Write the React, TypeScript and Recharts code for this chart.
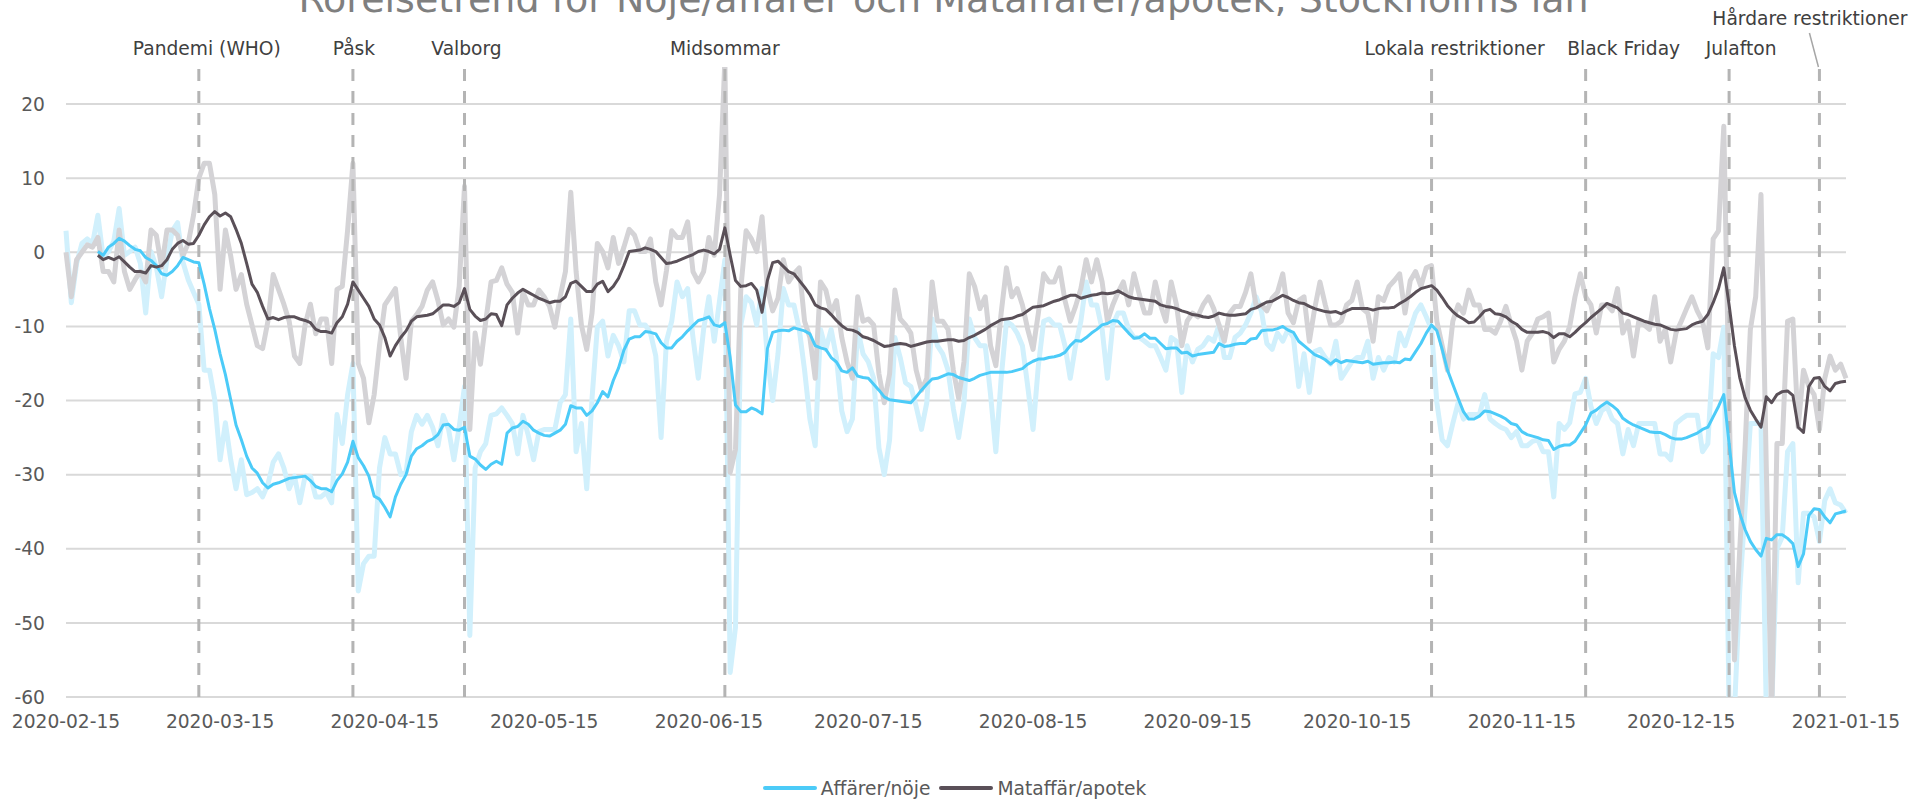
import React from 'react';
import { LineChart, Line, XAxis, YAxis, CartesianGrid, ReferenceLine, Legend } from 'recharts';

const START_UTC = Date.UTC(2020, 1, 15);

const xTickDates = [
  '2020-02-15', '2020-03-15', '2020-04-15', '2020-05-15', '2020-06-15', '2020-07-15',
  '2020-08-15', '2020-09-15', '2020-10-15', '2020-11-15', '2020-12-15', '2021-01-15',
];
const yTicks = [-60, -50, -40, -30, -20, -10, 0, 10, 20];

const events = [
  { date: '2020-03-11', label: 'Pandemi (WHO)' },
  { date: '2020-04-09', label: 'Påsk' },
  { date: '2020-04-30', label: 'Valborg' },
  { date: '2020-06-18', label: 'Midsommar' },
  { date: '2020-10-29', label: 'Lokala restriktioner' },
  { date: '2020-11-27', label: 'Black Friday' },
  { date: '2020-12-24', label: 'Julafton' },
  { date: '2021-01-10', label: 'Hårdare restriktioner' },
];

const seriesNames = ['Affärer/nöje', 'Mataffär/apotek'];

// Affärer/nöje, daily values (from 2020-02-15)
const affarerDaily = [
  2.9, -6.8, -1.5, 1.2, 1.8, 1.2, 5, -0.7, 0.1, 1.5,
  5.9, -0.4, 0.1, 0.7, -1.5, -8.2, 0.1, -2, -6, -1,
  2.9, 4, -1.3, -3.7, -5.4, -7, -15.9, -15.9, -19.9, -28,
  -23, -28, -31.9, -28, -32.7, -32.4, -31.9, -33, -31.3, -28.3,
  -27.2, -29.1, -31.9, -30.2, -33.8, -30.2, -30.2, -33, -33, -32.4,
  -33.8, -21.9, -25.8, -19.2, -15, -45.7, -42, -41, -41, -29.1,
  -25, -27.2, -27.2, -30, -29.7, -24.2, -22, -23.2, -22, -23.6,
  -26.1, -22, -23.9, -28, -23.6, -18.1, -51.7, -29.1, -26.9, -25.8,
  -22, -21.8, -21, -22, -23.1, -27.2, -22, -24.7, -28, -24.2,
  -23.9, -23.9, -23.9, -20.3, -19.2, -9, -26.9, -23.1, -31.9, -19.7,
  -10.1, -9.3, -14, -11.2, -12.6, -14.8, -7.9, -7.9, -9.8, -9.8,
  -10.9, -14, -25, -12, -9.3, -4, -6, -4.9, -11.5, -17,
  -10.4, -6, -12, -6.5, -1, -56.7, -50.6, -9.8, -6, -6.8,
  -9.8, -4.9, -14.2, -20, -13.7, -4.9, -7.1, -7.1, -10.4, -15.9,
  -22.5, -26.1, -10.4, -13.1, -10.4, -14.2, -21.4, -24.2, -22.5, -10.4,
  -13.7, -14.8, -17, -26.4, -30, -25.3, -11.5, -14.2, -17.6, -18.1,
  -20.8, -23.9, -20.3, -9, -12.6, -13.7, -15.9, -21.1, -25, -20.3,
  -9, -11.5, -12.6, -12.6, -19.2, -26.9, -17, -9.3, -9.8, -10.9,
  -12.6, -18.1, -23.9, -15.3, -9.3, -9, -9.8, -9.8, -12.6, -17,
  -12.6, -9.3, -4, -7.1, -7.1, -10.4, -17, -9.8, -8.2, -8.2,
  -10.4, -11.5, -11.5, -12, -12.6, -12.6, -14.2, -15.9, -11.5, -12,
  -18.9, -12.6, -14.8, -13.1, -12.6, -11.5, -12, -9.8, -14.2, -14.2,
  -11.5, -10.9, -9.8, -8.2, -6, -8, -12.3, -13.1, -10.9, -12,
  -10.4, -11.5, -18.1, -13.7, -18.9, -13.4, -13.1, -14.2, -15.1, -12,
  -17, -15.9, -14.8, -14.2, -14.2, -12, -17, -14.2, -15.9, -14.2,
  -14.8, -10.9, -12.6, -10.4, -8.2, -7.1, -8.7, -10.4, -20.3, -25.3,
  -26.1, -23.1, -20.3, -22.5, -21.9, -21.9, -21.9, -19.2, -22.5, -23.1,
  -23.6, -23.9, -25, -24.2, -26.1, -26.1, -25.5, -25.3, -26.9, -26.9,
  -33, -23.1, -23.9, -23, -19.1, -18.9, -17, -20.8, -23.1, -21.4,
  -20.8, -22.5, -23.1, -27.2, -23.9, -26.1, -23.1, -23.1, -23.1, -23.1,
  -27.2, -27.2, -28, -23.1, -22.5, -22, -22, -22, -26.9, -25.8,
  -13.7, -14.2, -10.1, -62, -62, -45.7, -34.6, -23.1, -23.1, -23,
  -62, -62, -40, -38.4, -26.9, -25.8, -44.6, -35.2, -35.2, -35.7,
  -39, -33.5, -31.9, -33.8, -34.1, -35.2,
];

// Affärer/nöje, 7-day average
const affarerAvg = [
  null, null, null, null, null, null, 0.1, -0.4, 0.7, 1.2,
  1.9, 1.5, 0.9, 0.4, 0.2, -0.7, -1.1, -1.8, -2.9, -3.1,
  -2.6, -1.8, -0.7, -1, -1.3, -1.4, -4.3, -7.6, -10.4, -13.7,
  -16.5, -19.9, -23.3, -25.3, -27.5, -29.1, -29.8, -31.1, -31.8, -31.3,
  -31.1, -30.8, -30.5, -30.4, -30.3, -30.2, -30.8, -31.6, -31.9, -31.9,
  -32.3, -30.8, -29.9, -28.3, -25.5, -27.7, -28.8, -30.2, -32.9, -33.3,
  -34.4, -35.7, -33, -31.3, -30, -27.5, -26.5, -26.1, -25.5, -25.2,
  -24.6, -23.3, -23.2, -23.9, -24, -23.6, -27.5, -27.9, -28.7, -29.3,
  -28.6, -28.2, -28.6, -24.4, -23.7, -23.5, -22.8, -23.2, -24, -24.4,
  -24.7, -24.8, -24.4, -24, -23.2, -20.7, -21, -21, -22, -21.4,
  -20.3, -18.8, -19.5, -17.3, -15.6, -13.2, -11.7, -11.4, -11.4, -10.7,
  -10.8, -11, -12.2, -12.9, -12.9, -12, -11.4, -10.6, -9.9, -9.2,
  -9, -8.7, -9.8, -10, -9.5, -14.2, -20.6, -21.5, -21.5, -21,
  -21.3, -21.8, -13, -10.8, -10.6, -10.5, -10.6, -10.2, -10.4, -10.6,
  -11, -12.6, -12.9, -13.1, -14.2, -14.8, -16, -16.2, -15.6, -16.7,
  -16.9, -17, -17.8, -18.6, -19.5, -19.9, -20, -20.1, -20.2, -20.3,
  -19.5, -18.6, -17.8, -17.1, -17, -16.7, -16.4, -16.5, -16.9, -17.1,
  -17.3, -17, -16.6, -16.4, -16.2, -16.2, -16.2, -16.2, -16.1, -15.9,
  -15.7, -15.1, -14.7, -14.4, -14.4, -14.2, -14.1, -13.9, -13.5, -12.6,
  -11.9, -12, -11.5, -10.9, -10.4, -9.8, -9.6, -9.2, -9.3, -10.1,
  -10.9, -11.6, -11.5, -11, -11.6, -11.6, -12.3, -13, -12.9, -12.9,
  -13.6, -13.5, -14, -13.8, -13.7, -13.6, -13.5, -12.3, -12.7, -12.6,
  -12.4, -12.3, -12.3, -11.7, -11.6, -10.6, -10.5, -10.5, -10.3, -10,
  -10.5, -10.8, -12, -12.6, -13.2, -13.8, -14.1, -14.5, -15.1, -14.5,
  -14.9, -14.6, -14.7, -14.8, -14.9, -14.7, -15.1, -15, -14.9, -14.9,
  -14.8, -14.9, -14.4, -14.5, -13.4, -12.3, -10.9, -9.8, -10.6, -13.1,
  -15.9, -17.8, -19.7, -21.5, -22.5, -22.5, -22.1, -21.4, -21.5, -21.8,
  -22.1, -22.5, -23.1, -23.3, -24.2, -24.6, -24.8, -25, -25.3, -25.4,
  -26.6, -26.2, -26, -26, -25.5, -24.4, -23.3, -21.7, -21.3, -20.7,
  -20.2, -20.7, -21.3, -22.4, -22.9, -23.3, -23.6, -23.9, -24.2, -24.3,
  -24.3, -24.6, -25, -25.2, -25.2, -25, -24.7, -24.4, -23.9, -23.6,
  -22.2, -20.8, -19.2, -25.8, -32.4, -35.2, -37.4, -39, -40.1, -41,
  -38.6, -38.8, -38.1, -38.1, -38.6, -39.3, -42.4, -40.7, -35.5, -34.6,
  -34.7, -35.7, -36.5, -35.3, -35.1, -34.9,
];

// Mataffär/apotek, daily values
const mataffarDaily = [
  0, -6, -1, 0, 1, 0.7, 2, -2.6, -2.6, -4,
  3, -2.6, -5, -3.7, -2.6, -4, 3, 2.3, -2, 3,
  3, 2.3, -0.5, 1.2, 5, 10, 12, 12, 7.8, -5,
  3, -0.5, -5, -3, -7, -9.8, -12.6, -13, -9.3, -3,
  -5, -7, -9.3, -14, -15, -9.8, -7, -11, -9, -9,
  -15, -5, -4.6, 3, 12, -15, -17, -23, -19.2, -12.6,
  -7.1, -6, -4.9, -11.5, -17, -9.3, -8.4, -7.3, -5.1, -4,
  -6.5, -9.8, -9, -10.1, -4.6, 8.9, -23.9, -10.9, -15.1, -9.3,
  -4, -3.8, -2.1, -4.3, -5.4, -10.9, -5.4, -7.1, -7.1, -5.1,
  -6, -7.3, -10.1, -6, -2.6, 8.1, -2.6, -9.8, -13.1, -8.2,
  1.2, 0.1, -2.1, 2, -1.5, 0.7, 3.1, 2.3, 0.1, 0.1,
  1.8, -4, -7.1, -2.5, 2.9, 2, 2, 4.1, -2.6, -4,
  -2.6, 2, -0.4, 7.8, 26, -29.7, -26.6, -4.9, 2.9, 1.8,
  0.1, 4.8, -4.9, -7.9, -6.2, -1, -4, -2.9, -2.1, -9.3,
  -11.5, -17, -4, -5.1, -8.2, -6.5, -11.5, -14.8, -17, -6,
  -9.3, -9, -9.8, -16.4, -20.3, -16.4, -5.1, -9, -9.8, -10.9,
  -15.9, -18.6, -17, -4, -9.3, -9.3, -10.4, -15.9, -19.7, -14.8,
  -2.9, -4.6, -7.6, -6, -12.6, -15.3, -8.2, -2.1, -6, -4.9,
  -7.1, -10.4, -13.1, -8.2, -2.9, -4, -4, -2.1, -6.5, -9.3,
  -7.3, -4.9, -1, -4, -1, -4, -9.3, -7.1, -5.4, -4,
  -7.1, -2.9, -5.7, -8.2, -8.2, -4, -7.1, -9.3, -4, -7.1,
  -12.6, -9.3, -8.2, -8.7, -7.1, -6, -7.6, -9.8, -12, -8.2,
  -7.3, -7.3, -5.4, -2.9, -7.3, -7.1, -7.9, -6.2, -5.4, -2.9,
  -8.2, -9.5, -6.5, -6, -12, -7.6, -4, -7.1, -9.8, -9.8,
  -9.3, -7.1, -6.5, -4, -7.6, -8.2, -12, -6, -6.5, -4.6,
  -3.8, -2.9, -8.2, -3.8, -2.6, -4.6, -2.1, -1.8, -9.3, -12.6,
  -15.9, -9.3, -7.1, -8.2, -5.1, -7.1, -7.1, -10.4, -10.4, -10.9,
  -9.3, -7.3, -9.8, -12, -15.9, -12, -10.9, -9, -8.7, -8.2,
  -14.8, -13.1, -12, -10, -6, -2.9, -6, -7.1, -10.9, -7.1,
  -7.1, -7.9, -4.9, -10.9, -9.3, -14, -9.3, -9.8, -10.4, -6,
  -12, -10.4, -14.8, -10.9, -9.3, -7.6, -6, -7.9, -9.3, -12.9,
  1.8, 2.9, 17, -20, -55, -40.1, -26.4, -10.4, -6, 7.8,
  -29, -63, -25.8, -25.8, -9.3, -9, -23.6, -15.9, -18.1, -19.2,
  -23.9, -17, -14, -15.9, -15.1, -17,
];

// Mataffär/apotek, 7-day average
const mataffarAvg = [
  null, null, null, null, null, null, -0.4, -1, -0.7, -1,
  -0.6, -1.3, -2, -2.6, -2.6, -2.8, -1.8, -2, -1.8, -1,
  0.4, 1.2, 1.6, 1.1, 1.2, 2.3, 3.7, 4.8, 5.5, 4.9,
  5.3, 4.8, 3.1, 1.2, -1.5, -4.3, -5.4, -7.3, -9, -8.8,
  -9.1, -8.8, -8.7, -8.7, -9, -9.2, -9.5, -10.4, -10.7, -10.7,
  -10.9, -9.5, -8.7, -7, -4, -5.1, -6.2, -7.3, -9, -9.8,
  -11.5, -14, -12.6, -11.5, -10.6, -9.3, -8.7, -8.6, -8.5, -8.3,
  -7.7, -7.1, -7.1, -7.3, -6.8, -4.9, -7.7, -8.6, -9.2, -9,
  -8.3, -8.4, -9.9, -7.1, -6.2, -5.5, -5, -5.4, -5.8, -6.2,
  -6.5, -6.8, -6.6, -6.6, -6, -4.2, -3.9, -4.6, -5.3, -5.3,
  -4.3, -3.9, -5.3, -4.6, -3.5, -1.8, 0.1, 0.2, 0.3, 0.6,
  0.4, 0.1, -0.7, -1.5, -1.4, -1.2, -0.9, -0.6, -0.3, 0.1,
  0.3, 0.1, -0.2, 0.4, 3.3, -0.4, -3.8, -4.6, -4.5, -4.2,
  -5.1, -8.1, -3.8, -1.4, -1.2, -1.9, -2.6, -2.9, -3.8, -4.7,
  -5.7, -7.1, -7.5, -7.7, -8.4, -9.2, -9.9, -10.4, -10.5, -10.8,
  -11.4, -11.6, -11.9, -12.3, -12.7, -12.6, -12.4, -12.3, -12.4, -12.7,
  -12.5, -12.3, -12.1, -12, -12, -11.9, -11.8, -11.8, -12, -11.9,
  -11.5, -11.2, -10.8, -10.4, -9.9, -9.5, -9.1, -9, -8.9, -8.6,
  -8.4, -7.9, -7.4, -7.3, -7.2, -6.9, -6.6, -6.4, -6.1, -5.8,
  -5.8, -6.2, -6, -5.8, -5.7, -5.5, -5.6, -5.5, -5.2, -5.6,
  -6, -6.2, -6.3, -6.4, -6.5, -6.6, -7.1, -7.3, -7.4, -7.6,
  -7.9, -8.1, -8.4, -8.5, -8.7, -8.8, -8.6, -8.2, -8.4, -8.5,
  -8.5, -8.4, -8.3, -7.7, -7.5, -7.1, -6.7, -6.6, -6.2, -5.8,
  -6.1, -6.5, -6.8, -6.9, -7.3, -7.6, -7.8, -8, -8.1, -8,
  -8.3, -7.9, -7.6, -7.6, -7.6, -7.6, -7.8, -7.6, -7.5, -7.5,
  -7.4, -6.9, -6.5, -6, -5.4, -4.9, -4.7, -4.5, -5.1, -6.1,
  -7.2, -8, -8.6, -9, -9.5, -9.4, -8.7, -7.9, -7.7, -8.3,
  -8.4, -8.7, -9.3, -9.7, -10.4, -10.8, -10.8, -10.8, -10.7, -10.9,
  -11.5, -11, -11, -11.4, -10.8, -10.1, -9.5, -8.8, -8.2, -7.6,
  -6.9, -7.2, -7.5, -8.2, -8.4, -8.7, -9, -9.3, -9.5, -9.7,
  -9.8, -10.1, -10.4, -10.5, -10.4, -10.3, -9.8, -9.5, -9.3, -8.4,
  -6.8, -4.9, -2.1, -7.1, -12.6, -16.9, -19.6, -21.3, -22.5, -23.6,
  -19.5, -20.3, -19.2, -18.8, -18.7, -19.3, -23.6, -24.3, -18.1, -17,
  -16.9, -18.1, -18.7, -17.7, -17.5, -17.4,
];

const dayOf = (iso: string) => {
  const [y, m, d] = iso.split('-').map(Number);
  return Math.round((Date.UTC(y, m - 1, d) - START_UTC) / 86400000);
};
const isoOf = (day: number) => new Date(START_UTC + day * 86400000).toISOString().slice(0, 10);

const data = affarerDaily.map((v, i) => ({
  day: i,
  date: isoOf(i),
  aDaily: v,
  aAvg: affarerAvg[i],
  mDaily: mataffarDaily[i],
  mAvg: mataffarAvg[i],
}));

const xTicks = xTickDates.map(dayOf);
const lastDay = data.length - 1;

// layout / style
const FONT = '"DejaVu Sans", Verdana, sans-serif';
const FS = 18.67;
const COLORS = {
  aDaily: '#D1F0FC',
  mDaily: '#D4D3D6',
  aAvg: '#4CCBF8',
  mAvg: '#5A5058',
  grid: '#D9D9D9',
  ref: '#B4B4B4',
  tick: '#595959',
  event: '#404040',
  title: '#7F7F7F',
};
const labelDx = [8, 1, 2, 0, 23, 38, 12, 0];

const renderEventLabel = (idx: number) => (props: any) => {
  const vb = props.viewBox || {};
  const x = vb.x ?? 0;
  const y = vb.y ?? 0;
  const text = events[idx].label;
  if (idx === events.length - 1) {
    return (
      <g>
        <line x1={x - 10} y1={y - 34} x2={x - 1} y2={y} stroke="#A6A6A6" strokeWidth={1.5} />
        <text x={x + 88} y={y - 42} textAnchor="end" fill={COLORS.event} fontSize={FS} fontFamily={FONT}>
          {text}
        </text>
      </g>
    );
  }
  return (
    <text x={x + labelDx[idx]} y={y - 12} textAnchor="middle" fill={COLORS.event} fontSize={FS} fontFamily={FONT}>
      {text}
    </text>
  );
};

const renderLegend = () => {
  const items = [
    { name: seriesNames[0], color: COLORS.aAvg },
    { name: seriesNames[1], color: COLORS.mAvg },
  ];
  return (
    <div
      style={{
        width: 1909,
        height: 30,
        display: 'flex',
        justifyContent: 'center',
        alignItems: 'center',
        paddingTop: 8,
        boxSizing: 'border-box',
        fontFamily: FONT,
        fontSize: FS,
        color: COLORS.tick,
      }}
    >
      {items.map((it, i) => (
        <div key={it.name} style={{ display: 'flex', alignItems: 'center', marginRight: i === 0 ? 9 : 0 }}>
          <span style={{ display: 'inline-block', width: 54, height: 4.5, background: it.color, borderRadius: 2, marginRight: 4 }} />
          <span style={{ whiteSpace: 'nowrap' }}>{it.name}</span>
        </div>
      ))}
    </div>
  );
};

export default function App() {
  return (
    <div style={{ position: 'absolute', left: 0, top: 0, width: 1909, height: 799, overflow: 'hidden', background: '#fff' }}>
      <div
        style={{
          position: 'absolute',
          left: 943.5,
          top: -23.5,
          transform: 'translateX(-50%)',
          whiteSpace: 'nowrap',
          fontFamily: FONT,
          fontSize: 38,
          lineHeight: 'normal',
          color: COLORS.title,
          zIndex: 2,
        }}
      >
        Rörelsetrend för Nöje/affärer och Mataffärer/apotek, Stockholms län
      </div>
      <LineChart width={1909} height={799} data={data} margin={{ top: 67, right: 63, bottom: 0, left: 0 }}>
        <CartesianGrid horizontal vertical={false} horizontalValues={yTicks} stroke={COLORS.grid} strokeWidth={2} />
        <XAxis
          type="number"
          dataKey="day"
          domain={[0, lastDay]}
          ticks={xTicks}
          interval={0}
          tickFormatter={(d: number) => isoOf(d)}
          axisLine={false}
          tickLine={false}
          tickSize={6}
          tickMargin={12}
          height={72}
          tick={{ fill: COLORS.tick, fontSize: FS, fontFamily: FONT }}
        />
        <YAxis
          type="number"
          domain={[-60, 25]}
          ticks={yTicks}
          allowDataOverflow
          interval={0}
          width={66}
          axisLine={false}
          tickLine={false}
          tickSize={6}
          tickMargin={15}
          tick={{ fill: COLORS.tick, fontSize: FS, fontFamily: FONT }}
        />
        <Line dataKey="aDaily" type="linear" stroke={COLORS.aDaily} strokeWidth={5} strokeLinejoin="round" dot={false} activeDot={false} legendType="none" isAnimationActive={false} />
        <Line dataKey="mDaily" type="linear" stroke={COLORS.mDaily} strokeWidth={5} strokeLinejoin="round" dot={false} activeDot={false} legendType="none" isAnimationActive={false} />
        {events.map((ev, i) => (
          <ReferenceLine
            key={ev.label}
            x={dayOf(ev.date)}
            stroke={COLORS.ref}
            strokeWidth={3}
            strokeDasharray="12 10"
            ifOverflow="visible"
            label={renderEventLabel(i)}
          />
        ))}
        <Line dataKey="aAvg" name={seriesNames[0]} type="linear" stroke={COLORS.aAvg} strokeWidth={3} strokeLinejoin="round" dot={false} activeDot={false} isAnimationActive={false} />
        <Line dataKey="mAvg" name={seriesNames[1]} type="linear" stroke={COLORS.mAvg} strokeWidth={3} strokeLinejoin="round" dot={false} activeDot={false} isAnimationActive={false} />
        <Legend verticalAlign="bottom" align="center" content={renderLegend} wrapperStyle={{ left: 0, width: 1909, bottom: 0, height: 30 }} />
      </LineChart>
    </div>
  );
}
